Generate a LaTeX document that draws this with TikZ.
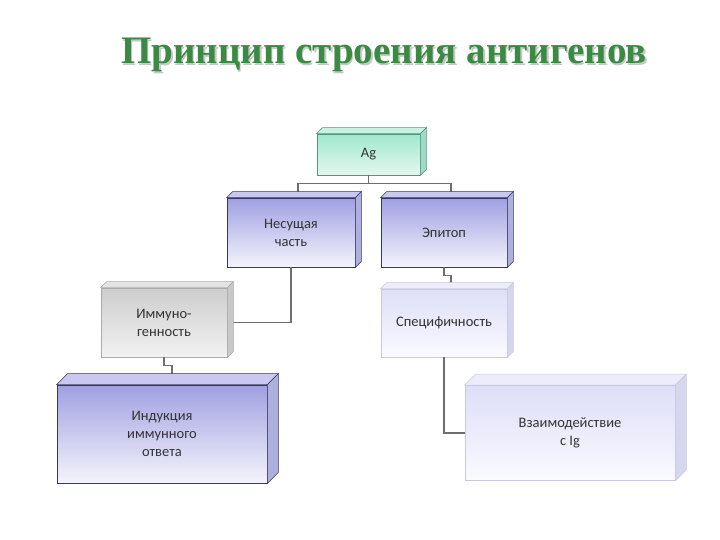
\documentclass[tikz,border=0pt]{standalone}
\usepackage{fontspec}
\setmainfont{Carlito}
\newfontfamily\titlefont{Liberation Serif}
\usetikzlibrary{positioning}

\definecolor{titlegreen}{RGB}{58,138,68}
\definecolor{linkgray}{RGB}{110,110,110}
\definecolor{blueedge}{RGB}{55,55,100}
\definecolor{bluetop}{RGB}{160,160,226}
\definecolor{bluebot}{RGB}{244,244,252}
\definecolor{blueroof}{RGB}{200,200,240}
\definecolor{blueside}{RGB}{175,175,222}
\definecolor{mintedge}{RGB}{80,150,130}
\definecolor{minttop}{RGB}{160,232,205}
\definecolor{mintbot}{RGB}{228,248,240}
\definecolor{mintroof}{RGB}{200,242,226}
\definecolor{mintside}{RGB}{160,218,196}
\definecolor{grayedge}{RGB}{170,170,170}
\definecolor{graytop}{RGB}{205,205,205}
\definecolor{graybot}{RGB}{242,242,242}
\definecolor{grayroof}{RGB}{228,228,228}
\definecolor{grayside}{RGB}{200,200,200}
\definecolor{lavedge}{RGB}{200,200,226}
\definecolor{lavtop}{RGB}{222,222,248}
\definecolor{lavbot}{RGB}{250,250,255}
\definecolor{lavroof}{RGB}{236,236,250}
\definecolor{lavside}{RGB}{214,214,238}

\tikzset{
  block/.style={draw, line width=0.8pt, inner sep=2pt, align=center,
    text=black!80, font=\fontsize{14.5}{18}\selectfont},
  blueblock/.style={block, draw=blueedge, top color=bluetop, bottom color=bluebot},
  mintblock/.style={block, draw=mintedge, top color=minttop, bottom color=mintbot},
  grayblock/.style={block, draw=grayedge, top color=graytop, bottom color=graybot},
  lavblock/.style={block, draw=lavedge, top color=lavtop, bottom color=lavbot},
  link/.style={draw=linkgray, line width=1.6pt}
}

\begin{document}
\begin{tikzpicture}[x=1pt, y=-1pt]
  \useasboundingbox (0,0) rectangle (720,540);
  % Title
  \node (shadow) at (385.5,56.5) {\titlefont\bfseries\color{black!22}\fontsize{39}{44}\selectfont Принцип строения антигенов};
  \node (title) at (384,55) {\titlefont\bfseries\color{titlegreen}\fontsize{39}{44}\selectfont Принцип строения антигенов};
  % Boxes
  \node[mintblock, minimum width=103pt, minimum height=41pt] (ag) at (368.5,154.5) {Ag};
  \node[blueblock, minimum width=128pt, minimum height=69pt] (carrier) at (291,232.5) {Несущая\\часть};
  \node[blueblock, minimum width=126pt, minimum height=69pt] (epitope) at (444,232.5) {Эпитоп};
  \node[grayblock, minimum width=126pt, minimum height=69pt] (immuno) at (164,322.5) {Иммуно-\\генность};
  \node[lavblock, minimum width=126pt, minimum height=68pt] (specific) at (444,323) {Специфичность};
  \node[blueblock, minimum width=210pt, minimum height=98pt] (induction) at (162,434) {Индукция\\иммунного\\ответа};
  \node[lavblock, minimum width=210pt, minimum height=95pt] (interact) at (570,433) {Взаимодействие\\с Ig};
  % Connectors
  \draw[link] (ag.south) -- ++(0,8) coordinate (split);
  \draw[link] ([xshift=7pt,yshift=6pt]carrier.north) |- (split) -| ([xshift=7pt,yshift=6pt]epitope.north);
  \draw[link] (carrier.south) |- (immuno.east);
  \draw[link] (epitope.south) -- ++(0,8) -| ([xshift=7pt,yshift=6pt]specific.north);
  \draw[link] (immuno.south) -- ++(0,8) -| ([xshift=10pt,yshift=11pt]induction.north);
  \draw[link] (specific.south) |- (interact.west);
  % 3D faces
  \foreach \n/\d/\c/\e in {ag/6/mint/mintedge, carrier/6/blue/blueedge, epitope/6/blue/blueedge,
      immuno/6/gray/grayedge, specific/6/lav/lavedge, induction/11/blue/blueedge, interact/11/lav/lavedge}{
    \filldraw[fill=\c roof, draw=\e, line width=0.6pt] (\n.north west) -- ++(\d,-\d) -- ([shift={(\d,-\d)}]\n.north east) -- (\n.north east) -- cycle;
    \filldraw[fill=\c side, draw=\e, line width=0.6pt] (\n.north east) -- ++(\d,-\d) -- ([shift={(\d,-\d)}]\n.south east) -- (\n.south east) -- cycle;
  }
\end{tikzpicture}
\end{document}
